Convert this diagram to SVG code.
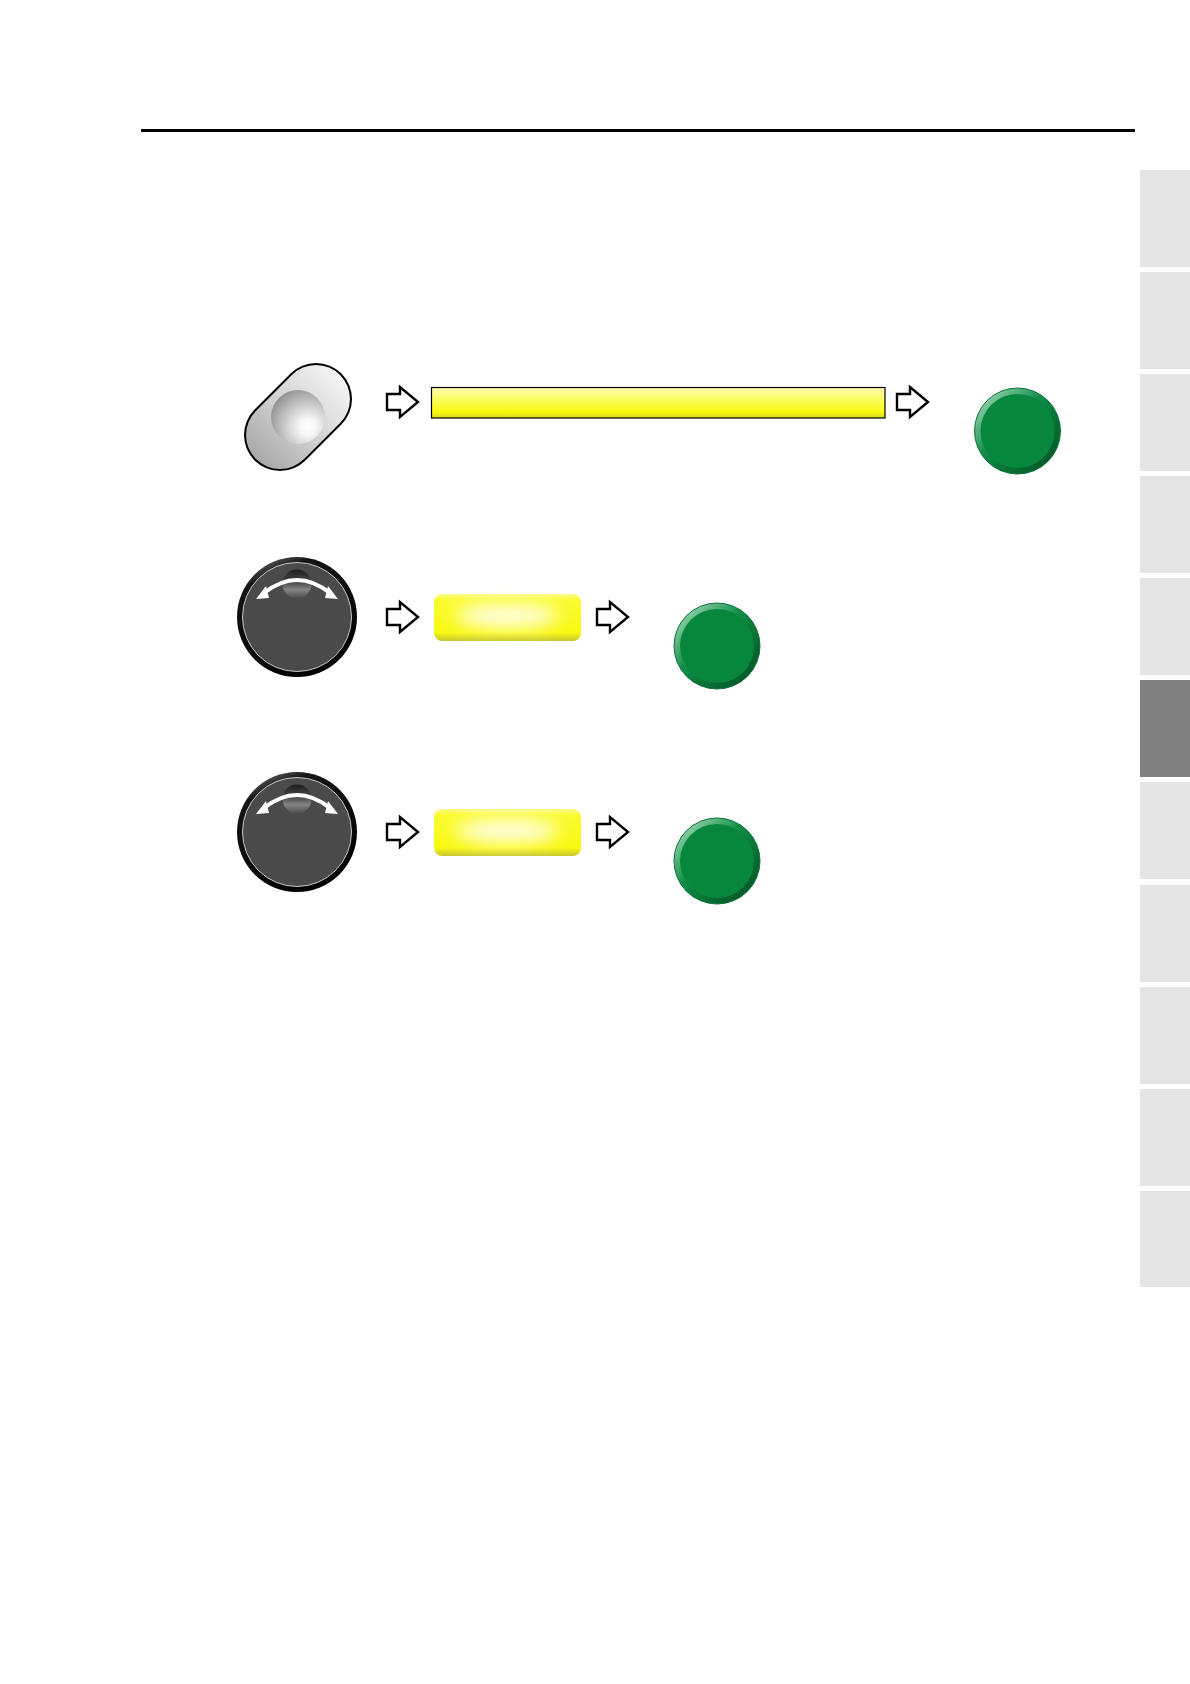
<svg xmlns="http://www.w3.org/2000/svg" width="1190" height="1684" viewBox="0 0 1190 1684">
<defs>
<style>
.tab{fill:#e5e5e5}
.arrow{fill:#fff;stroke:#000;stroke-width:2.4}
</style>
<linearGradient id="capsuleGrad" gradientUnits="userSpaceOnUse" x1="252" y1="463" x2="344" y2="371"><stop offset="0" stop-color="#a4a4a4"/><stop offset="0.45" stop-color="#cfcfcf"/><stop offset="1" stop-color="#f8f8f8"/></linearGradient>
<radialGradient id="dimple" gradientUnits="userSpaceOnUse" cx="308" cy="427" r="42"><stop offset="0" stop-color="#fff"/><stop offset="0.2" stop-color="#f6f6f6"/><stop offset="0.6" stop-color="#c4c4c4"/><stop offset="1" stop-color="#8e8e8e"/></radialGradient>
<linearGradient id="barGrad" x1="0" y1="0" x2="0" y2="1"><stop offset="0" stop-color="#fdfdb4"/><stop offset="0.4" stop-color="#fcfc60"/><stop offset="0.8" stop-color="#fafa10"/><stop offset="1" stop-color="#d8d820"/></linearGradient>
<linearGradient id="pillEdge" x1="0" y1="0" x2="0" y2="1"><stop offset="0" stop-color="#fbfb90"/><stop offset="0.12" stop-color="#fbfb30"/><stop offset="0.82" stop-color="#f8f810"/><stop offset="1" stop-color="#c8c830"/></linearGradient>
<filter id="soft" x="-40%" y="-100%" width="180%" height="300%"><feGaussianBlur stdDeviation="9"/></filter>
<linearGradient id="rimGrad" x1="0.12" y1="0.12" x2="0.88" y2="0.88"><stop offset="0" stop-color="#8fd0a8"/><stop offset="0.4" stop-color="#138f4a"/><stop offset="0.6" stop-color="#0a7a3a"/><stop offset="1" stop-color="#045a28"/></linearGradient>
<linearGradient id="knobRim" x1="0.15" y1="0" x2="0.6" y2="1"><stop offset="0" stop-color="#777"/><stop offset="0.18" stop-color="#151515"/><stop offset="1" stop-color="#000"/></linearGradient>
<linearGradient id="knobDimple" x1="0" y1="0" x2="0" y2="1"><stop offset="0" stop-color="#1e1e1e"/><stop offset="0.45" stop-color="#4a4a4a"/><stop offset="0.7" stop-color="#858585"/><stop offset="1" stop-color="#4a4a4a"/></linearGradient>
<g id="green"><circle r="43" fill="url(#rimGrad)" stroke="#0b7238" stroke-width="1"/><circle r="37" fill="#07873d"/></g>
<g id="knob">
<circle r="60" fill="url(#knobRim)"/>
<circle r="54.500" fill="#4a4a4a" stroke="#c8c8c8" stroke-width="1"/>
<circle cy="-33" r="14.500" fill="url(#knobDimple)"/>
<path d="M-33 -24Q0 -50 33 -24" fill="none" stroke="#fff" stroke-width="4"/>
<path d="M-41 -18L-31 -31L-28 -19Z M41 -18L31 -31L28 -19Z" fill="#fff"/>
</g>
<g id="pill"><rect width="147" height="47" rx="8" fill="url(#pillEdge)"/><ellipse cx="73" cy="22" rx="52" ry="12" fill="#ffffe8" filter="url(#soft)"/></g>
<path id="arr" class="arrow" d="M0 -8H13V-15L31 0L13 15V8H0Z"/>
</defs>
<rect width="1190" height="1684" fill="#fff"/>
<rect id="header-rule" x="141" y="129" width="994" height="3" fill="#000"/>
<g id="tabs">
<rect class="tab" x="1140" y="170" width="50" height="97"/>
<rect class="tab" x="1140" y="272" width="50" height="97"/>
<rect class="tab" x="1140" y="374" width="50" height="97"/>
<rect class="tab" x="1140" y="476" width="50" height="97"/>
<rect class="tab" x="1140" y="578" width="50" height="97"/>
<rect x="1140" y="680" width="50" height="97" fill="#808080"/>
<rect class="tab" x="1140" y="782" width="50" height="97"/>
<rect class="tab" x="1140" y="885" width="50" height="97"/>
<rect class="tab" x="1140" y="987" width="50" height="97"/>
<rect class="tab" x="1140" y="1089" width="50" height="97"/>
<rect class="tab" x="1140" y="1191" width="50" height="96"/>
</g>
<g id="capsule">
<line x1="316" y1="399" x2="280" y2="435" stroke="#000" stroke-width="72" stroke-linecap="round"/>
<line x1="316" y1="399" x2="280" y2="435" stroke="url(#capsuleGrad)" stroke-width="68" stroke-linecap="round"/>
<circle cx="298" cy="417" r="27" fill="url(#dimple)"/>
</g>
<g id="bar"><rect x="431.500" y="387.500" width="453.500" height="30.500" fill="url(#barGrad)" stroke="#000" stroke-width="1.200"/></g>
<g id="green-1"><use href="#green" x="1017.500" y="431"/></g>
<g id="knob-2"><use href="#knob" x="297" y="617"/></g>
<g id="pill-2"><use href="#pill" x="434" y="594"/></g>
<g id="green-2"><use href="#green" x="717" y="646"/></g>
<g id="knob-3"><use href="#knob" x="297" y="832"/></g>
<g id="pill-3"><use href="#pill" x="434" y="809"/></g>
<g id="green-3"><use href="#green" x="717" y="861"/></g>
<g id="connectors">
<use href="#arr" x="387" y="402"/>
<use href="#arr" x="897" y="402"/>
<use href="#arr" x="387" y="617"/>
<use href="#arr" x="597" y="617"/>
<use href="#arr" x="387" y="832"/>
<use href="#arr" x="597" y="832"/>
</g>
</svg>
